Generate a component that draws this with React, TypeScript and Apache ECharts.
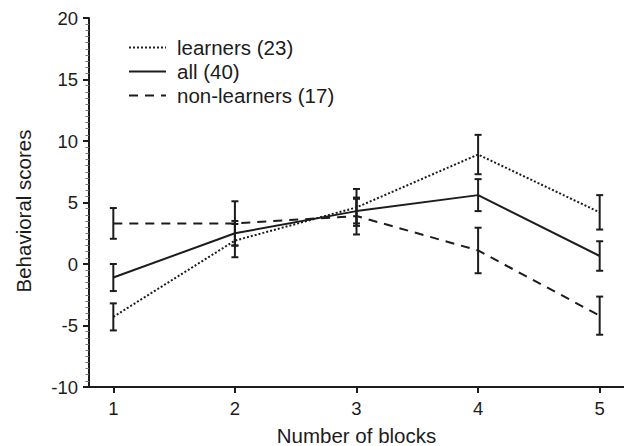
import React, { useEffect, useRef } from "react";
import * as echarts from "echarts";

// Block numbers on the x axis
const blocks = [1, 2, 3, 4, 5];

// Mean behavioral scores per block
const learners = [-4.3, 1.9, 4.6, 8.9, 4.2];
const all = [-1.1, 2.5, 4.3, 5.6, 0.65];
const nonLearners = [3.3, 3.3, 3.9, 1.1, -4.2];

// Half-length of each error bar (±)
const learnersErr = [1.1, 1.35, 1.5, 1.6, 1.4];
const allErr = [1.1, 1.0, 1.0, 1.3, 1.2];
const nonLearnersErr = [1.25, 1.8, 1.5, 1.85, 1.55];

const yTicks = [-10, -5, 0, 5, 10, 15, 20];

const seriesNames = ["learners (23)", "all (40)", "non-learners (17)"];

const INK = "#1c1c1c";
const FONT = "Liberation Sans";

function errorRows(means: number[], errs: number[]) {
  return blocks.map((b, i) => [b, means[i] - errs[i], means[i] + errs[i]]);
}

function errorBarSeries(means: number[], errs: number[]) {
  return {
    type: "custom",
    data: errorRows(means, errs),
    silent: true,
    z: 3,
    renderItem: (_params: any, api: any) => {
      const x = api.value(0);
      const lo = api.coord([x, api.value(1)]);
      const hi = api.coord([x, api.value(2)]);
      const half = 3.5;
      const style = { stroke: INK, lineWidth: 2 };
      return {
        type: "group",
        children: [
          { type: "line", shape: { x1: lo[0], y1: lo[1], x2: hi[0], y2: hi[1] }, style },
          { type: "line", shape: { x1: lo[0] - half, y1: lo[1], x2: lo[0] + half, y2: lo[1] }, style },
          { type: "line", shape: { x1: hi[0] - half, y1: hi[1], x2: hi[0] + half, y2: hi[1] }, style },
        ],
      };
    },
  };
}

function lineSeries(name: string, values: number[], type: any) {
  return {
    name,
    type: "line",
    data: blocks.map((b, i) => [b, values[i]]),
    symbol: "none",
    z: 4,
    lineStyle: { color: INK, width: 2, type },
    itemStyle: { color: INK },
  };
}

export default function App() {
  const ref = useRef<HTMLDivElement>(null);

  useEffect(() => {
    if (!ref.current) return;
    const chart = echarts.init(ref.current, undefined, { renderer: "svg" });
    chart.setOption({
      animation: false,
      backgroundColor: "#ffffff",
      grid: { left: 89, right: 0, top: 18, bottom: 59, outerBoundsMode: "none" },
      legend: {
        data: seriesNames,
        orient: "vertical",
        left: 128,
        top: 35.5,
        padding: 0,
        itemWidth: 37,
        itemHeight: 10,
        itemGap: 0,
        itemStyle: { color: "transparent", borderWidth: 0, opacity: 0 },
        textStyle: { fontFamily: FONT, fontSize: 20.5, color: INK, lineHeight: 24, padding: [0, 0, 0, 6] },
      },
      xAxis: {
        type: "value",
        min: 0.8,
        max: 5.2,
        name: "Number of blocks",
        nameLocation: "middle",
        nameGap: 37.5,
        nameTextStyle: { fontFamily: FONT, fontSize: 20.5, color: INK },
        splitLine: { show: false },
        axisLine: { show: true, onZero: false, lineStyle: { color: INK, width: 2 } },
        axisTick: { show: true, length: 6, customValues: blocks, lineStyle: { color: INK, width: 2 } },
        axisLabel: {
          customValues: blocks,
          margin: 12,
          fontFamily: FONT,
          fontSize: 18.5,
          color: INK,
        },
      },
      yAxis: {
        type: "value",
        min: yTicks[0],
        max: yTicks[yTicks.length - 1],
        interval: 5,
        splitLine: { show: false },
        axisLine: { show: true, onZero: false, lineStyle: { color: INK, width: 2 } },
        axisTick: { show: true, length: 6, lineStyle: { color: INK, width: 2 } },
        minorTick: { show: true, splitNumber: 10, length: 3.5, lineStyle: { color: "#777", width: 1 } },
        axisLabel: { margin: 11, fontFamily: FONT, fontSize: 18.5, color: INK },
      },
      graphic: [
        {
          type: "text",
          x: 23,
          y: 211,
          rotation: Math.PI / 2,
          style: {
            text: "Behavioral scores",
            fontFamily: FONT,
            fontSize: 20.5,
            fill: INK,
            align: "center",
            verticalAlign: "middle",
          },
        },
      ],
      series: [
        lineSeries(seriesNames[0], learners, [2, 2]),
        lineSeries(seriesNames[1], all, "solid"),
        lineSeries(seriesNames[2], nonLearners, [9, 7]),
        errorBarSeries(learners, learnersErr),
        errorBarSeries(all, allErr),
        errorBarSeries(nonLearners, nonLearnersErr),
      ],
    });
    return () => chart.dispose();
  }, []);

  return (
    <div
      ref={ref}
      style={{ position: "fixed", left: 0, top: 0, width: 624, height: 446 }}
    />
  );
}
